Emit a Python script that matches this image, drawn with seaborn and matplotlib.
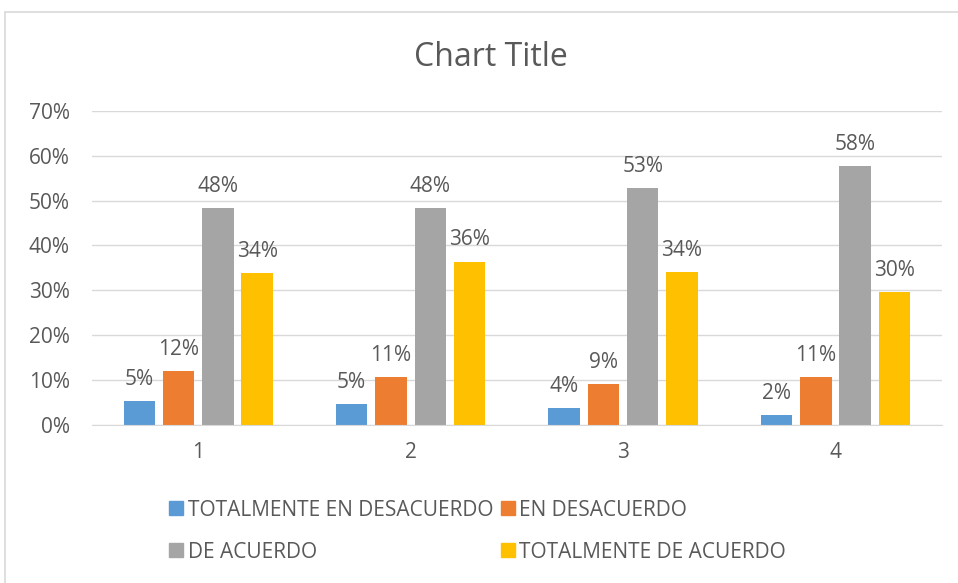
import seaborn as sns
import matplotlib.pyplot as plt
import pandas as pd
from matplotlib.lines import Line2D

# values (fractions)
groups = ['1', '2', '3', '4']
series = ['TOTALMENTE EN DESACUERDO', 'EN DESACUERDO', 'DE ACUERDO', 'TOTALMENTE DE ACUERDO']
tot_desacuerdo = [0.053, 0.046, 0.038, 0.023]
en_desacuerdo = [0.121, 0.107, 0.092, 0.107]
de_acuerdo = [0.483, 0.484, 0.528, 0.576]
tot_acuerdo = [0.339, 0.364, 0.340, 0.296]
colors = ['#5B9BD5', '#ED7D31', '#A5A5A5', '#FFC000']

rows = []
for name, vals in zip(series, [tot_desacuerdo, en_desacuerdo, de_acuerdo, tot_acuerdo]):
    for g, v in zip(groups, vals):
        rows.append({'grupo': g, 'serie': name, 'valor': v})
df = pd.DataFrame(rows)

sns.set_style('white')
plt.rcParams['font.family'] = ['Open Sans', 'DejaVu Sans']
txt = '#595959'
fs = 15

fig = plt.figure(figsize=(9.58, 5.83), dpi=100)
ax = fig.add_axes([0.096, 0.271, 0.887, 0.539])

sns.barplot(data=df, x='grupo', y='valor', hue='serie', hue_order=series,
            palette=colors, width=0.74, gap=0.2, ax=ax, legend=False,
            errorbar=None, saturation=1, linewidth=0)

for c in ax.containers:
    ax.bar_label(c, labels=['{:.0%}'.format(b.get_height()) for b in c],
                 padding=8, fontsize=fs, color=txt)

ax.set_ylim(0, 0.7)
ax.set_yticks([i / 10 for i in range(8)])
ax.set_yticklabels(['{}%'.format(i * 10) for i in range(8)])
ax.yaxis.grid(True, color='#D9D9D9', linewidth=1)
ax.set_axisbelow(True)
for s in ['left', 'right', 'top']:
    ax.spines[s].set_visible(False)
ax.spines['bottom'].set_color('#D9D9D9')
ax.tick_params(axis='both', length=0, labelsize=fs, labelcolor=txt)
ax.tick_params(axis='y', pad=16)
ax.tick_params(axis='x', pad=12)
ax.set_xlabel('')
ax.set_ylabel('')

fig.text(0.512, 0.902, 'Chart Title', ha='center', va='center', fontsize=23, color=txt)

# legend laid out row-wise like the original
order = [0, 2, 1, 3]
handles = [Line2D([], [], marker='s', linestyle='', markersize=10, color=colors[i]) for i in order]
labels = [series[i] for i in order]
leg = fig.legend(handles, labels, loc='center', bbox_to_anchor=(0.497, 0.089), ncol=2,
                 frameon=False, fontsize=fs, labelcolor=txt, handletextpad=0.05,
                 columnspacing=0.2, labelspacing=1.0, handlelength=1.0)

# chart border
fig.add_artist(Line2D([5 / 958, 5 / 958], [0, 1 - 12 / 583], transform=fig.transFigure, color='#D9D9D9', lw=1.2))
fig.add_artist(Line2D([5 / 958, 1], [1 - 12 / 583, 1 - 12 / 583], transform=fig.transFigure, color='#D9D9D9', lw=1.2))

fig.savefig('out.png', dpi=100, facecolor='white')
